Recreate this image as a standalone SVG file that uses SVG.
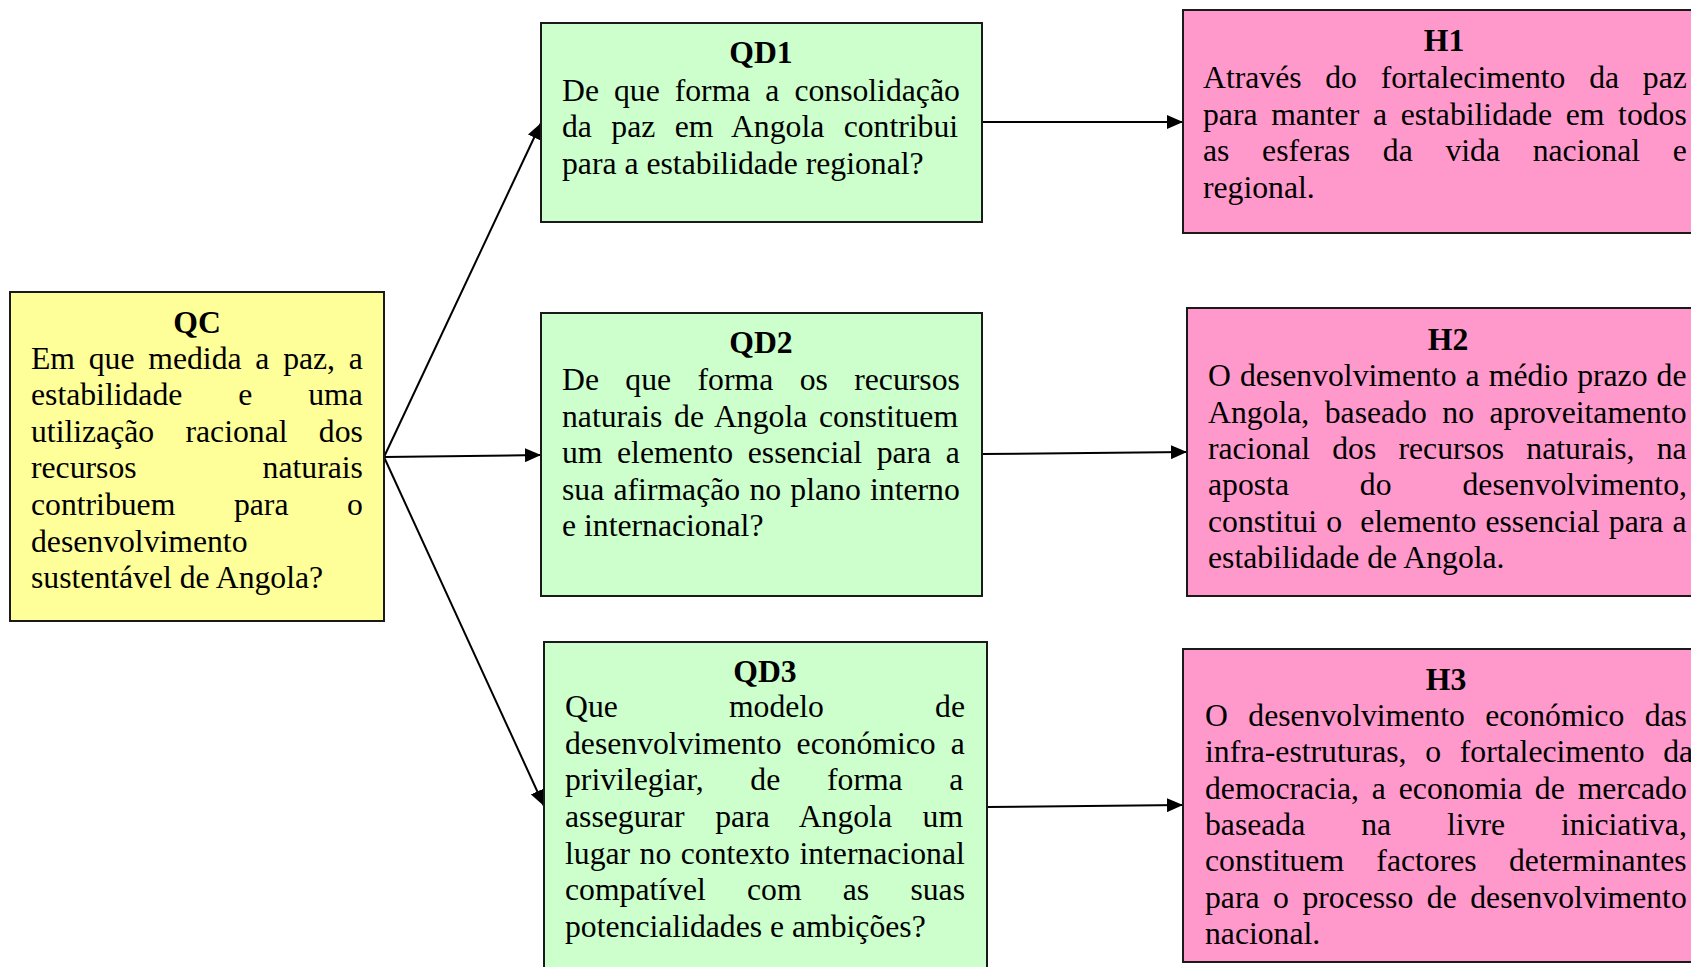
<svg xmlns="http://www.w3.org/2000/svg" width="1691" height="967" viewBox="0 0 1691 967">
<style>
.bg{fill:#ffffff}
.box{stroke:#1a1a1a;stroke-width:2}
.qc{fill:#ffff99}
.qd{fill:#ccffcc}
.hy{fill:#ff99cc}
text{font-family:"Liberation Serif","Times New Roman",serif;font-size:31.7px;fill:#000}
.h{font-weight:bold;text-anchor:middle}
.conn line{stroke:#000;stroke-width:2;fill:none}
</style>
<defs>
<marker id="arr" markerWidth="16" markerHeight="14" refX="16" refY="7" orient="auto" markerUnits="userSpaceOnUse">
<path d="M0,0 L16,7 L0,14 z" fill="#000"/>
</marker>
</defs>
<rect class="bg" x="0" y="0" width="1691" height="967"/>

<g id="connectors" class="conn">
<line x1="384" y1="457" x2="541" y2="123" marker-end="url(#arr)"/>
<line x1="384" y1="457" x2="541" y2="455" marker-end="url(#arr)"/>
<line x1="384" y1="457" x2="544" y2="806" marker-end="url(#arr)"/>
<line x1="982" y1="122" x2="1183" y2="122" marker-end="url(#arr)"/>
<line x1="982" y1="454" x2="1187" y2="452" marker-end="url(#arr)"/>
<line x1="987" y1="807" x2="1183" y2="805" marker-end="url(#arr)"/>
</g>

<g id="QC">
<rect class="box qc" x="10" y="292" width="374" height="329"/>
<text class="h" x="197" y="333">QC</text>
<text x="31" y="368.5" word-spacing="5.84">Em que medida a paz, a</text>
<text x="31" y="405.1" word-spacing="48">estabilidade e uma</text>
<text x="31" y="441.7" word-spacing="23.4">utilização racional dos</text>
<text x="31" y="478.3" word-spacing="118.1">recursos naturais</text>
<text x="31" y="514.9" word-spacing="50.7">contribuem para o</text>
<text x="31" y="551.5">desenvolvimento</text>
<text x="31" y="588.1">sustentável de Angola?</text>
</g>

<g id="QD1">
<rect class="box qd" x="541" y="23" width="441" height="199"/>
<text class="h" x="761" y="63">QD1</text>
<text x="562" y="100.5" word-spacing="7.07">De que forma a consolidação</text>
<text x="562" y="137.1" word-spacing="11.46">da paz em Angola contribui</text>
<text x="562" y="173.7">para a estabilidade regional?</text>
</g>

<g id="H1">
<rect class="box hy" x="1183" y="10" width="530" height="223"/>
<text class="h" x="1444" y="51">H1</text>
<text x="1203" y="88" word-spacing="15.8">Através do fortalecimento da paz</text>
<text x="1203" y="124.5" word-spacing="5.77">para manter a estabilidade em todos</text>
<text x="1203" y="161" word-spacing="24.8">as esferas da vida nacional e</text>
<text x="1203" y="197.5">regional.</text>
</g>

<g id="QD2">
<rect class="box qd" x="541" y="313" width="441" height="283"/>
<text class="h" x="761" y="353">QD2</text>
<text x="562" y="390" word-spacing="18.5">De que forma os recursos</text>
<text x="562" y="426.6" word-spacing="3.83">naturais de Angola constituem</text>
<text x="562" y="463.2" word-spacing="6.63">um elemento essencial para a</text>
<text x="562" y="499.8" word-spacing="1.34">sua afirmação no plano interno</text>
<text x="562" y="536.4">e internacional?</text>
</g>

<g id="H2">
<rect class="box hy" x="1187" y="308" width="530" height="288"/>
<text class="h" x="1448" y="350">H2</text>
<text x="1208" y="386" word-spacing="1.2">O desenvolvimento a médio prazo de</text>
<text x="1208" y="422.5" word-spacing="7.6">Angola, baseado no aproveitamento</text>
<text x="1208" y="458.9" word-spacing="14.3">racional dos recursos naturais, na</text>
<text x="1208" y="495.3" word-spacing="63">aposta do desenvolvimento,</text>
<text x="1208" y="531.7" word-spacing="1.15" xml:space="preserve" style="white-space:pre">constitui o  elemento essencial para a</text>
<text x="1208" y="568.1">estabilidade de Angola.</text>
</g>

<g id="QD3">
<rect class="box qd" x="544" y="642" width="443" height="340"/>
<text class="h" x="765" y="682">QD3</text>
<text x="565" y="717" word-spacing="103.2">Que modelo de</text>
<text x="565" y="753.7" word-spacing="7.2">desenvolvimento económico a</text>
<text x="565" y="790.3" word-spacing="38.8">privilegiar, de forma a</text>
<text x="565" y="827" word-spacing="22.7">assegurar para Angola um</text>
<text x="565" y="863.7" word-spacing="1.57">lugar no contexto internacional</text>
<text x="565" y="900.3" word-spacing="33.3">compatível com as suas</text>
<text x="565" y="937">potencialidades e ambições?</text>
</g>

<g id="H3">
<rect class="box hy" x="1183" y="649" width="530" height="313"/>
<text class="h" x="1446" y="690">H3</text>
<text x="1205" y="726" word-spacing="12.5">O desenvolvimento económico das</text>
<text x="1205" y="762.3" word-spacing="10.8">infra-estruturas, o fortalecimento da</text>
<text x="1205" y="798.7" word-spacing="4.97">democracia, a economia de mercado</text>
<text x="1205" y="835" word-spacing="48">baseada na livre iniciativa,</text>
<text x="1205" y="871.3" word-spacing="24.4">constituem factores determinantes</text>
<text x="1205" y="907.7" word-spacing="5.6">para o processo de desenvolvimento</text>
<text x="1205" y="944">nacional.</text>
</g>
</svg>
